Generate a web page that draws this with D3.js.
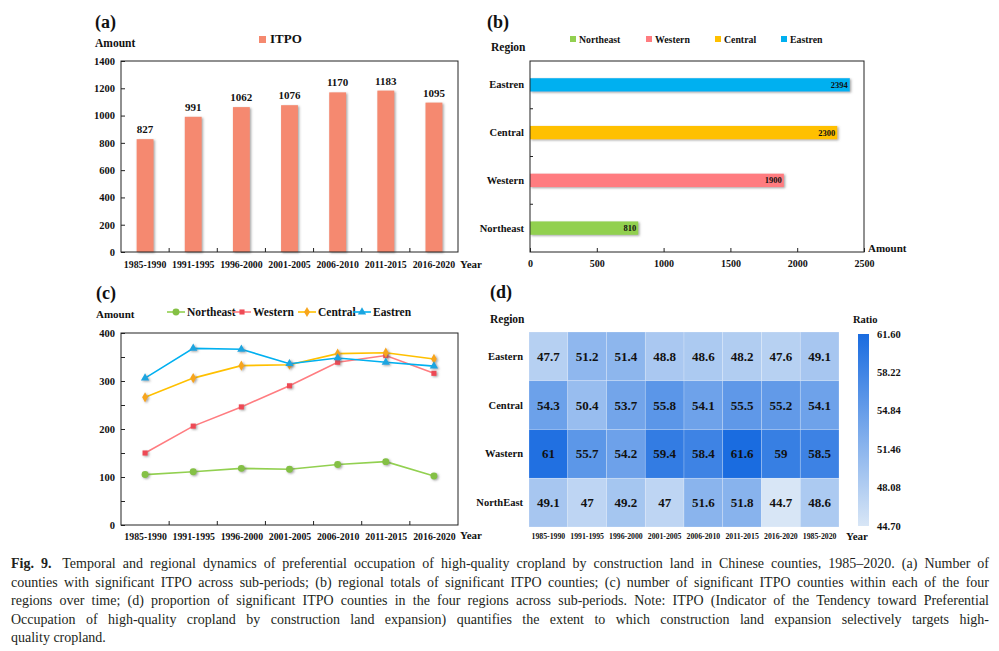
<!DOCTYPE html>
<html>
<head>
<meta charset="utf-8">
<script src="https://cdn.jsdelivr.net/npm/d3@7"></script>
<style>
  body { margin: 0; background: #fff; }
  svg { display: block; }
  text { font-family: "Liberation Serif", "DejaVu Serif", serif; fill: #111; }
  .bold { font-weight: bold; }
  .axis path { display: none; }
  .axis line { stroke: #222; }
  .axis text { font-family: "Liberation Serif", "DejaVu Serif", serif; font-weight: bold; fill: #111; }
  .frame { fill: none; stroke: #222; stroke-width: 1; }
</style>
</head>
<body>
<svg width="999" height="651"></svg>
<script>
// ---- data ----
var years = ["1985-1990", "1991-1995", "1996-2000", "2001-2005", "2006-2010", "2011-2015", "2016-2020"];
var itpo = [827, 991, 1062, 1076, 1170, 1183, 1095];

var regions = ["Northeast", "Western", "Central", "Eastren"];
var regionTotals = [810, 1900, 2300, 2394];

var northeast = [105, 111, 118, 116, 126, 132, 102];
var western = [150, 206, 246, 290, 339, 353, 316];
var central = [266, 306, 332, 334, 357, 359, 346];
var eastren = [306, 368, 366, 336, 348, 339, 331];

var heatYears = ["1985-1990", "1991-1995", "1996-2000", "2001-2005", "2006-2010", "2011-2015", "2016-2020", "1985-2020"];
var heatRegions = ["Eastern", "Central", "Wastern", "NorthEast"];
var ratioEastern = [47.7, 51.2, 51.4, 48.8, 48.6, 48.2, 47.6, 49.1];
var ratioCentral = [54.3, 50.4, 53.7, 55.8, 54.1, 55.5, 55.2, 54.1];
var ratioWastern = [61, 55.7, 54.2, 59.4, 58.4, 61.6, 59, 58.5];
var ratioNorthEast = [49.1, 47, 49.2, 47, 51.6, 51.8, 44.7, 48.6];
var ratioTicks = [44.70, 48.08, 51.46, 54.84, 58.22, 61.60];

// ---- styles ----
var barColor = "#f5896f";
var regionColor = {Northeast: "#92d050", Western: "#ff7c80", Central: "#ffc000", Eastren: "#00b0f0"};
var markerColor = {Northeast: "#84c044", Western: "#ee4a55", Central: "#f7a51c", Eastren: "#1aa5e0"};

var svg = d3.select("svg");
svg.append("rect").attr("width", 999).attr("height", 651).attr("fill", "#fff");

var defs = svg.append("defs");
var shadow = defs.append("filter").attr("id", "shadow")
    .attr("x", "-20%").attr("y", "-20%").attr("width", "150%").attr("height", "150%");
shadow.append("feDropShadow")
    .attr("dx", 1.3).attr("dy", 1).attr("stdDeviation", 1)
    .attr("flood-color", "#666").attr("flood-opacity", 0.6);

function label(x, y, txt, size, anchor) {
  return svg.append("text").attr("class", "bold")
      .attr("x", x).attr("y", y)
      .attr("font-size", size)
      .attr("text-anchor", anchor || "start")
      .text(txt);
}

// ================= (a) bar chart =================
var a = {left: 121, right: 458, top: 61, bottom: 252};

var xa = d3.scaleBand().domain(years).range([a.left, a.right])
    .paddingInner(0.65).paddingOuter(0.325);
var ya = d3.scaleLinear().domain([0, 1400]).range([a.bottom, a.top]);

svg.append("g").attr("class", "axis")
    .attr("transform", "translate(" + a.left + ",0)")
    .call(d3.axisLeft(ya).tickValues(d3.range(0, 1401, 200)).tickFormat(d3.format("d"))
      .tickSizeInner(-4).tickSizeOuter(0).tickPadding(6))
    .selectAll("text").attr("font-size", 10.5);

var xaAxis = svg.append("g").attr("class", "axis")
    .attr("transform", "translate(0," + a.bottom + ")")
    .call(d3.axisBottom(xa).tickSize(0).tickPadding(9));
xaAxis.selectAll("text").attr("font-size", 9.8);
// ticks between categories
xaAxis.selectAll(".sep").data(years.slice(1)).enter().append("line")
    .attr("x1", function(d) { return xa(d) - xa.step() * xa.paddingInner() / 2; })
    .attr("x2", function(d) { return xa(d) - xa.step() * xa.paddingInner() / 2; })
    .attr("y1", 0).attr("y2", -4);

svg.append("g").attr("filter", "url(#shadow)")
  .selectAll("rect").data(itpo).enter().append("rect")
    .attr("x", function(d, i) { return xa(years[i]); })
    .attr("y", function(d) { return ya(d); })
    .attr("width", xa.bandwidth())
    .attr("height", function(d) { return a.bottom - ya(d); })
    .attr("fill", barColor);

svg.append("g").selectAll("text").data(itpo).enter().append("text")
    .attr("class", "bold")
    .attr("x", function(d, i) { return xa(years[i]) + xa.bandwidth() / 2; })
    .attr("y", function(d) { return ya(d) - 6; })
    .attr("text-anchor", "middle")
    .attr("font-size", 11)
    .text(function(d) { return d; });

svg.append("rect").attr("class", "frame")
    .attr("x", a.left).attr("y", a.top)
    .attr("width", a.right - a.left).attr("height", a.bottom - a.top);

label(95, 28, "(a)", 18);
label(95, 47, "Amount", 11.5);
label(460, 268, "Year", 11);
svg.append("rect").attr("x", 259).attr("y", 36).attr("width", 7).attr("height", 7).attr("fill", barColor);
label(270, 43, "ITPO", 13);

// ================= (b) horizontal bars =================
var b = {left: 530, right: 864, top: 61, bottom: 252};
var regionsTop = regions.slice().reverse();

var xb = d3.scaleLinear().domain([0, 2500]).range([b.left, b.right]);
var yb = d3.scaleBand().domain(regionsTop).range([b.top, b.bottom])
    .paddingInner(0.72).paddingOuter(0.36);

svg.append("g").attr("class", "axis")
    .attr("transform", "translate(0," + b.bottom + ")")
    .call(d3.axisBottom(xb).tickValues(d3.range(0, 2501, 500)).tickFormat(d3.format("d"))
      .tickSizeInner(-4).tickSizeOuter(0).tickPadding(8))
    .selectAll("text").attr("font-size", 10);

var ybAxis = svg.append("g").attr("class", "axis")
    .attr("transform", "translate(" + b.left + ",0)")
    .call(d3.axisLeft(yb).tickSize(0).tickPadding(6));
ybAxis.selectAll("text").attr("font-size", 10.5);
ybAxis.selectAll(".sep").data(regionsTop.slice(1)).enter().append("line")
    .attr("y1", function(d) { return yb(d) - yb.step() * yb.paddingInner() / 2; })
    .attr("y2", function(d) { return yb(d) - yb.step() * yb.paddingInner() / 2; })
    .attr("x1", 0).attr("x2", 3);

svg.append("g").attr("filter", "url(#shadow)")
  .selectAll("rect").data(regionTotals).enter().append("rect")
    .attr("x", b.left)
    .attr("y", function(d, i) { return yb(regions[i]); })
    .attr("width", function(d) { return xb(d) - b.left; })
    .attr("height", yb.bandwidth())
    .attr("fill", function(d, i) { return regionColor[regions[i]]; });

svg.append("g").selectAll("text").data(regionTotals).enter().append("text")
    .attr("class", "bold")
    .attr("x", function(d) { return xb(d) - 2; })
    .attr("y", function(d, i) { return yb(regions[i]) + yb.bandwidth() / 2 + 3; })
    .attr("text-anchor", "end")
    .attr("font-size", 8.5)
    .text(function(d) { return d; });

svg.append("rect").attr("class", "frame")
    .attr("x", b.left).attr("y", b.top)
    .attr("width", b.right - b.left).attr("height", b.bottom - b.top);

label(487, 28, "(b)", 18);
label(491, 51, "Region", 11.5);
label(868, 252, "Amount", 11);

var legendB = [570, 646, 715, 781];
regions.forEach(function(r, i) {
  svg.append("rect").attr("x", legendB[i]).attr("y", 36).attr("width", 6).attr("height", 6)
      .attr("fill", regionColor[r]);
  label(legendB[i] + 9, 42.5, r, 9.8);
});

// ================= (c) line chart =================
var c = {left: 121, right: 458, top: 333, bottom: 525};

var xc = d3.scalePoint().domain(years).range([c.left, c.right]).padding(0.5);
var yc = d3.scaleLinear().domain([0, 400]).range([c.bottom, c.top]);

svg.append("g").attr("class", "axis")
    .attr("transform", "translate(" + c.left + ",0)")
    .call(d3.axisLeft(yc).tickValues(d3.range(0, 401, 100)).tickSizeInner(-4).tickSizeOuter(0).tickPadding(6))
    .selectAll("text").attr("font-size", 10.5);
svg.append("g").attr("class", "axis")
    .attr("transform", "translate(" + c.left + ",0)")
    .call(d3.axisLeft(yc).tickValues([50, 150, 250, 350]).tickSizeInner(-4).tickSizeOuter(0).tickFormat(""));

var xcAxis = svg.append("g").attr("class", "axis")
    .attr("transform", "translate(0," + c.bottom + ")")
    .call(d3.axisBottom(xc).tickSize(0).tickPadding(8));
xcAxis.selectAll("text").attr("font-size", 9.8);
xcAxis.selectAll(".sep").data(years.slice(1)).enter().append("line")
    .attr("x1", function(d) { return xc(d) - xc.step() / 2; })
    .attr("x2", function(d) { return xc(d) - xc.step() / 2; })
    .attr("y1", 0).attr("y2", -4);

var series = [
  {name: "Northeast", values: northeast, shape: d3.symbolCircle, size: 38},
  {name: "Western", values: western, shape: d3.symbolSquare, size: 26},
  {name: "Central", values: central, shape: d3.symbolDiamond, size: 30},
  {name: "Eastren", values: eastren, shape: d3.symbolTriangle, size: 30}
];

var line = d3.line()
    .x(function(d, i) { return xc(years[i]); })
    .y(function(d) { return yc(d); });

series.forEach(function(s) {
  svg.append("path").datum(s.values)
      .attr("d", line)
      .attr("fill", "none")
      .attr("stroke", regionColor[s.name])
      .attr("stroke-width", 1.6);
  svg.append("g").attr("filter", "url(#shadow)")
    .selectAll("path").data(s.values).enter().append("path")
      .attr("d", d3.symbol().type(s.shape).size(s.size))
      .attr("transform", function(d, i) { return "translate(" + xc(years[i]) + "," + yc(d) + ")"; })
      .attr("fill", markerColor[s.name]);
});

svg.append("rect").attr("class", "frame")
    .attr("x", c.left).attr("y", c.top)
    .attr("width", c.right - c.left).attr("height", c.bottom - c.top);

label(96, 299, "(c)", 18);
label(96, 318, "Amount", 11);
label(460, 539, "Year", 11);

var legendC = [176, 242, 307, 362];
series.forEach(function(s, i) {
  var lx = legendC[i];
  svg.append("line").attr("x1", lx - 9).attr("x2", lx + 9).attr("y1", 312).attr("y2", 312)
      .attr("stroke", regionColor[s.name]).attr("stroke-width", 1.6);
  svg.append("path").attr("d", d3.symbol().type(s.shape).size(s.size))
      .attr("transform", "translate(" + lx + ",312)")
      .attr("fill", markerColor[s.name]);
  label(lx + 11, 316, s.name, 11.5);
});

// ================= (d) heatmap =================
var d = {left: 529, right: 839, top: 332, bottom: 527};
var heatRows = [ratioEastern, ratioCentral, ratioWastern, ratioNorthEast];

var xd = d3.scaleBand().domain(heatYears).range([d.left, d.right]);
var yd = d3.scaleBand().domain(heatRegions).range([d.top, d.bottom]);
var color = d3.scaleLinear().domain([44.7, 61.6]).range(["#d8e6f6", "#1a6ce0"]);

heatRows.forEach(function(row, r) {
  var g = svg.append("g");
  g.selectAll("rect").data(row).enter().append("rect")
      .attr("x", function(v, i) { return xd(heatYears[i]); })
      .attr("y", yd(heatRegions[r]))
      .attr("width", xd.bandwidth())
      .attr("height", yd.bandwidth())
      .attr("fill", function(v) { return color(v); })
      .attr("stroke", "#fff").attr("stroke-opacity", 0.35).attr("stroke-width", 0.6);
  g.selectAll("text").data(row).enter().append("text")
      .attr("class", "bold")
      .attr("x", function(v, i) { return xd(heatYears[i]) + xd.bandwidth() / 2; })
      .attr("y", yd(heatRegions[r]) + yd.bandwidth() / 2 + 4.5)
      .attr("text-anchor", "middle")
      .attr("font-size", 13)
      .text(function(v) { return v; });
});

svg.append("g").attr("class", "axis")
    .attr("transform", "translate(" + d.left + ",0)")
    .call(d3.axisLeft(yd).tickSize(0).tickPadding(6))
    .selectAll("text").attr("font-size", 10.5);
svg.append("g").attr("class", "axis")
    .attr("transform", "translate(0," + d.bottom + ")")
    .call(d3.axisBottom(xd).tickSize(0).tickPadding(6))
    .selectAll("text").attr("font-size", 7.8);

label(490, 298, "(d)", 18);
label(490, 323, "Region", 11.5);
label(846, 540, "Year", 11);
label(853, 323, "Ratio", 10.5);

// colour bar
var cb = {x: 858, w: 11, top: 334, bottom: 526};
var grad = defs.append("linearGradient").attr("id", "cbar")
    .attr("x1", 0).attr("y1", 1).attr("x2", 0).attr("y2", 0);
grad.append("stop").attr("offset", 0).attr("stop-color", color(44.7));
grad.append("stop").attr("offset", 1).attr("stop-color", color(61.6));
svg.append("rect").attr("x", cb.x).attr("y", cb.top)
    .attr("width", cb.w).attr("height", cb.bottom - cb.top)
    .attr("fill", "url(#cbar)");

var ycb = d3.scaleLinear().domain([44.7, 61.6]).range([cb.bottom, cb.top]);
svg.append("g").selectAll("text").data(ratioTicks).enter().append("text")
    .attr("class", "bold")
    .attr("x", 877)
    .attr("y", function(v) { return ycb(v) + 3.5; })
    .attr("font-size", 10.5)
    .text(function(v) { return v.toFixed(2); });

// ================= caption =================
var captionLines = [
  "Temporal and regional dynamics of preferential occupation of high-quality cropland by construction land in Chinese counties, 1985\u20132020. (a) Number of",
  "counties with significant ITPO across sub-periods; (b) regional totals of significant ITPO counties; (c) number of significant ITPO counties within each of the four",
  "regions over time; (d) proportion of significant ITPO counties in the four regions across sub-periods. Note: ITPO (Indicator of the Tendency toward Preferential",
  "Occupation of high-quality cropland by construction land expansion) quantifies the extent to which construction land expansion selectively targets high-",
  "quality cropland."
];
var capX = 11, capRight = 989, capY = 568, capStep = 18.5;

captionLines.forEach(function(txt, i) {
  var t = svg.append("text")
      .attr("x", capX).attr("y", capY + i * capStep)
      .attr("font-size", 14)
      .style("fill", "#231f20");
  if (i === 0) {
    t.append("tspan").attr("font-weight", "bold").text("Fig. 9.");
    t.append("tspan").attr("dx", 4).text(" " + txt);
  } else {
    t.text(txt);
  }
  if (i < captionLines.length - 1) {
    var w = t.node().getComputedTextLength() + (i === 0 ? 4 : 0);
    var spaces = (txt.match(/ /g) || []).length + (i === 0 ? 2 : 0);
    t.attr("word-spacing", Math.max(0, (capRight - capX - w) / spaces));
  }
});
</script>
</body>
</html>
